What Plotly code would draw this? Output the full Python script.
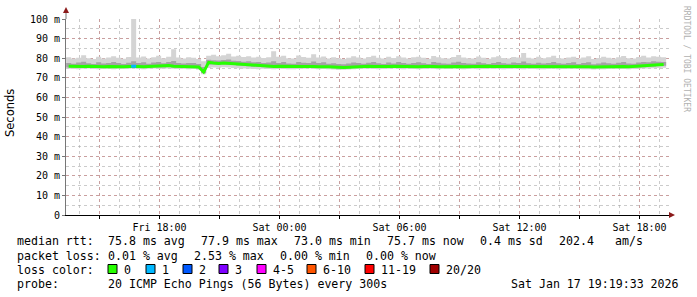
import plotly.graph_objects as go
import pandas as pd

# ---------------- data (15-minute bins, Fri 13:20 -> Sat 19:20) ----------------
median = [
    75.9, 75.8, 75.7, 75.8, 75.9, 75.8, 75.6, 75.7, 75.8, 75.7,
    75.8, 75.7, 75.8, 75.9, 75.8, 75.7, 75.8, 75.9, 75.8, 75.9,
    76.3, 75.9, 75.8, 75.8, 75.7, 75.8, 75.5, 73.0, 77.9, 77.5,
    77.3, 77.6, 77.4, 77.2, 77.0, 76.8, 76.5, 76.3, 76.1, 76.0,
    75.9, 75.8, 75.9, 75.8, 75.8, 75.7, 75.8, 75.8, 75.9, 75.8,
    75.7, 75.8, 75.6, 75.5, 75.3, 75.3, 75.4, 75.6, 75.8, 75.8,
    75.9, 75.8, 75.7, 75.8, 75.8, 75.9, 75.8, 75.7, 75.8, 75.8,
    75.7, 75.8, 75.9, 75.8, 75.7, 75.8, 75.8, 75.9, 75.8, 75.7,
    75.8, 75.8, 75.7, 75.8, 75.9, 75.8, 75.8, 75.7, 75.8, 75.9,
    75.8, 75.7, 75.8, 75.8, 75.6, 75.7, 75.8, 75.8, 75.7, 75.8,
    75.8, 75.9, 75.8, 75.7, 75.6, 75.5, 75.6, 75.7, 75.8, 75.8,
    75.9, 75.8, 75.7, 75.8, 75.9, 76.0, 76.2, 76.4, 76.6, 76.8,
]
smoke_max = [
    80.5, 79.8, 80.2, 81.5, 80.0, 79.6, 80.8, 79.9, 80.3, 81.0,
    80.2, 79.7, 80.6, 102.0, 80.4, 80.9, 79.8, 80.5, 81.2, 80.0,
    80.7, 84.6, 80.3, 79.9, 80.5, 80.2, 79.6, 78.5, 81.2, 81.8,
    81.0, 81.5, 82.3, 80.9, 81.2, 80.6, 81.0, 80.4, 80.8, 80.1,
    80.5, 83.5, 80.7, 81.2, 80.0, 79.8, 81.4, 80.6, 80.2, 82.0,
    80.3, 80.9, 79.9, 80.5, 80.0, 79.6, 80.2, 81.0, 80.4, 79.9,
    80.6, 81.3, 80.2, 79.8, 80.7, 80.1, 81.0, 80.4, 79.9, 80.5,
    80.8, 80.2, 79.7, 81.1, 80.5, 80.0, 79.8, 80.6, 81.6, 80.3,
    80.0, 79.8, 80.9, 80.2, 79.7, 80.5, 81.0, 80.1, 79.9, 80.6,
    80.4, 82.6, 80.2, 79.8, 80.7, 80.0, 80.5, 81.2, 80.1, 79.9,
    80.3, 80.8, 79.8, 80.4, 81.0, 79.6, 80.1, 80.7, 80.2, 79.9,
    80.5, 81.1, 80.0, 79.8, 80.6, 81.2, 80.4, 81.0, 80.8, 80.5,
]
smoke_min = [
    74.6, 74.5, 74.4, 74.6, 74.7, 74.5, 74.3, 74.5, 74.6, 74.4,
    74.6, 74.5, 74.6, 74.7, 74.5, 74.4, 74.6, 74.7, 74.5, 74.6,
    74.8, 74.6, 74.5, 74.6, 74.4, 74.5, 74.1, 71.8, 75.0, 75.3,
    75.1, 75.4, 75.2, 75.0, 74.9, 74.8, 74.6, 74.5, 74.4, 74.6,
    74.5, 74.4, 74.6, 74.5, 74.4, 74.3, 74.5, 74.6, 74.7, 74.5,
    74.4, 74.5, 74.3, 74.2, 74.0, 74.1, 74.2, 74.3, 74.5, 74.6,
    74.6, 74.5, 74.4, 74.5, 74.6, 74.7, 74.5, 74.4, 74.6, 74.5,
    74.4, 74.5, 74.6, 74.5, 74.4, 74.6, 74.5, 74.7, 74.5, 74.4,
    74.5, 74.6, 74.4, 74.5, 74.6, 74.5, 74.6, 74.4, 74.5, 74.6,
    74.5, 74.4, 74.6, 74.5, 74.3, 74.4, 74.5, 74.6, 74.4, 74.5,
    74.6, 74.6, 74.5, 74.4, 74.3, 74.2, 74.3, 74.4, 74.5, 74.6,
    74.6, 74.5, 74.4, 74.5, 74.6, 74.7, 74.8, 74.9, 75.0, 75.1,
]
smoke_q3 = [
    77.6, 77.2, 77.8, 78.2, 77.4, 77.0, 77.9, 77.3, 77.6, 78.0,
    77.5, 77.1, 77.7, 78.4, 77.6, 77.9, 77.2, 77.8, 78.1, 77.4,
    78.0, 78.6, 77.5, 77.3, 77.6, 77.5, 77.0, 75.5, 79.2, 79.0,
    78.8, 79.1, 79.3, 78.7, 78.6, 78.2, 78.4, 77.9, 78.0, 77.6,
    77.8, 78.5, 77.6, 78.0, 77.3, 77.2, 78.1, 77.7, 77.5, 78.3,
    77.5, 77.9, 77.2, 77.4, 77.0, 76.9, 77.3, 77.8, 77.6, 77.2,
    77.7, 78.1, 77.4, 77.1, 77.8, 77.3, 78.0, 77.6, 77.2, 77.5,
    77.9, 77.4, 77.1, 78.0, 77.7, 77.3, 77.2, 77.8, 78.2, 77.5,
    77.3, 77.2, 77.9, 77.4, 77.1, 77.6, 78.0, 77.4, 77.2, 77.8,
    77.6, 78.3, 77.4, 77.2, 77.7, 77.3, 77.6, 78.1, 77.4, 77.2,
    77.5, 77.9, 77.1, 77.6, 77.9, 76.9, 77.3, 77.8, 77.4, 77.2,
    77.7, 78.0, 77.3, 77.2, 77.8, 78.1, 77.9, 78.4, 78.2, 78.0,
]
smoke_q1 = [
    75.3, 75.2, 75.1, 75.3, 75.4, 75.2, 75.0, 75.1, 75.3, 75.1,
    75.2, 75.1, 75.3, 75.3, 75.2, 75.1, 75.2, 75.4, 75.2, 75.3,
    75.7, 75.3, 75.2, 75.3, 75.1, 75.2, 74.8, 72.4, 76.6, 76.8,
    76.6, 76.9, 76.7, 76.5, 76.3, 76.1, 75.9, 75.7, 75.5, 75.4,
    75.3, 75.2, 75.3, 75.2, 75.2, 75.1, 75.2, 75.3, 75.3, 75.2,
    75.1, 75.2, 75.0, 74.9, 74.7, 74.7, 74.8, 75.0, 75.2, 75.2,
    75.3, 75.2, 75.1, 75.2, 75.3, 75.3, 75.2, 75.1, 75.2, 75.2,
    75.1, 75.2, 75.3, 75.2, 75.1, 75.2, 75.2, 75.3, 75.2, 75.1,
    75.2, 75.2, 75.1, 75.2, 75.3, 75.2, 75.2, 75.1, 75.2, 75.3,
    75.2, 75.1, 75.2, 75.2, 75.0, 75.1, 75.2, 75.2, 75.1, 75.2,
    75.2, 75.3, 75.2, 75.1, 75.0, 74.9, 75.0, 75.1, 75.2, 75.2,
    75.3, 75.2, 75.1, 75.2, 75.3, 75.4, 75.6, 75.8, 76.0, 76.2,
]
loss = [
    0, 0, 0, 0, 0, 0, 0, 0, 0, 0,
    0, 0, 0, 1, 0, 0, 0, 0, 0, 0,
    0, 0, 0, 0, 0, 0, 0, 0, 0, 0,
    0, 0, 0, 0, 0, 0, 0, 0, 0, 0,
    0, 0, 0, 0, 0, 0, 0, 0, 0, 0,
    0, 0, 0, 0, 0, 0, 0, 0, 0, 0,
    0, 0, 0, 0, 0, 0, 0, 0, 0, 0,
    0, 0, 0, 0, 0, 0, 0, 0, 0, 0,
    0, 0, 0, 0, 0, 0, 0, 0, 0, 0,
    0, 0, 0, 0, 0, 0, 0, 0, 0, 0,
    0, 0, 0, 0, 0, 0, 0, 0, 0, 0,
    0, 0, 0, 0, 0, 0, 0, 0, 0, 0,
]
loss_labels = ["0", "1", "2", "3", "4-5", "6-10", "11-19", "20/20"]
loss_colors = ["#26ff00", "#00b8ff", "#0059ff", "#7e00ff", "#ff00ff", "#ff5500", "#ff0000", "#a00000"]

y_tickvals = [0, 10, 20, 30, 40, 50, 60, 70, 80, 90, 100]
y_ticktext = ["0", "10 m", "20 m", "30 m", "40 m", "50 m", "60 m", "70 m", "80 m", "90 m", "100 m"]
x_tickvals = ["2026-01-16 15:00", "2026-01-16 18:00", "2026-01-16 21:00", "2026-01-17 00:00",
              "2026-01-17 03:00", "2026-01-17 06:00", "2026-01-17 09:00", "2026-01-17 12:00",
              "2026-01-17 15:00", "2026-01-17 18:00"]
x_ticktext = ["", "Fri 18:00", "", "Sat 00:00", "", "Sat 06:00", "", "Sat 12:00", "", "Sat 18:00"]

start = pd.Timestamp("2026-01-16 13:20:00")
step = pd.Timedelta(minutes=15)
x_range = ["2026-01-16 13:19:33", "2026-01-17 19:28:33"]

# ---------------- figure ----------------
n = len(median)
t_edges = [start + step * i for i in range(n + 1)]
t_mid = [start + step * i + step / 2 for i in range(n)]


def ext(v):
    return list(v) + [v[-1]]


fig = go.Figure()
for lo, hi, col in [(smoke_min, smoke_max, "#d4d4d4"), (smoke_q1, smoke_q3, "#a4a4a4")]:
    fig.add_trace(go.Scatter(x=t_edges, y=ext(lo), mode="lines", line=dict(width=0, shape="hv"),
                             hoverinfo="skip", showlegend=False))
    fig.add_trace(go.Scatter(x=t_edges, y=ext(hi), mode="lines", line=dict(width=0, shape="hv"),
                             fill="tonexty", fillcolor=col, hoverinfo="skip", showlegend=False))

fig.add_trace(go.Scatter(x=t_mid, y=median, mode="lines", line=dict(color=loss_colors[0], width=3),
                         showlegend=False))
for i, l in enumerate(loss):
    if l > 0:
        fig.add_trace(go.Scatter(x=[t_edges[i], t_edges[i + 1]], y=[median[i], median[i]], mode="lines",
                                 line=dict(color=loss_colors[min(l, 7)], width=3), showlegend=False))

L, R, T, B = 66, 669, 19, 215
W, H = 697, 297


def xp(px):
    return (px - L) / (R - L)


def yp(py):
    return (B - py) / (B - T)


MAJ = "rgba(200,130,130,0.6)"
MIN = "rgba(160,160,160,0.55)"

fig.update_layout(
    width=W, height=H,
    margin=dict(l=L, r=W - R, t=T, b=H - B, pad=0),
    paper_bgcolor="white", plot_bgcolor="white",
    showlegend=False,
    font=dict(family="DejaVu Sans Mono", size=10, color="black"),
    xaxis=dict(type="date", range=x_range, tickvals=x_tickvals, ticktext=x_ticktext,
               showgrid=True, gridcolor=MAJ, griddash="dot", gridwidth=1,
               minor=dict(dtick=3600000, tick0="2026-01-16 00:00", showgrid=True, gridcolor=MIN,
                          griddash="dot", gridwidth=1),
               ticks="outside", ticklen=3, tickcolor="black", showline=True, linecolor="black",
               linewidth=1, zeroline=False, tickfont=dict(size=10), fixedrange=True),
    yaxis=dict(range=[0, 100], tickvals=y_tickvals, ticktext=y_ticktext,
               showgrid=True, gridcolor=MAJ, griddash="dot", gridwidth=1,
               minor=dict(dtick=5, tick0=0, showgrid=True, gridcolor=MIN, griddash="dot", gridwidth=1),
               ticks="outside", ticklen=3, tickcolor="#777", showline=True, linecolor="#777",
               linewidth=1, zeroline=False, tickfont=dict(size=10), fixedrange=True),
)

shapes = []
# axis extensions and arrows
shapes.append(dict(type="line", xref="paper", yref="paper", x0=0, x1=0, y0=1, y1=yp(11),
                   line=dict(color="#777", width=1)))
shapes.append(dict(type="line", xref="paper", yref="paper", x0=1, x1=xp(672), y0=0, y1=0,
                   line=dict(color="black", width=1)))
shapes.append(dict(type="path", xref="paper", yref="paper",
                   path=f"M {xp(63)},{yp(13)} L {xp(69)},{yp(13)} L {xp(66)},{yp(7)} Z",
                   fillcolor="#8b1a1a", line=dict(width=0)))
shapes.append(dict(type="path", xref="paper", yref="paper",
                   path=f"M {xp(669)},{yp(212)} L {xp(669)},{yp(218)} L {xp(675)},{yp(215)} Z",
                   fillcolor="#8b1a1a", line=dict(width=0)))

FS = 11.6
ann = []


def text(px, py, s, size=FS, **kw):
    ann.append(dict(xref="paper", yref="paper", x=xp(px), y=yp(py), text=s, showarrow=False,
                    xanchor=kw.pop("xanchor", "left"), yanchor=kw.pop("yanchor", "middle"),
                    borderpad=0,
                    font=dict(family=kw.pop("family", "DejaVu Sans Mono"), size=size,
                              color=kw.pop("color", "black")), **kw))


y1, y2, y3, y4 = 241.5, 255.5, 269.5, 283.5
text(16, y1, "median rtt:")
text(107, y1, "75.8 ms avg")
text(200, y1, "77.9 ms max")
text(293, y1, "73.0 ms min")
text(386, y1, "75.7 ms now")
text(479, y1, "0.4 ms sd")
text(558, y1, "202.4")
text(614, y1, "am/s")

text(16, y2, "packet loss:")
text(107, y2, "0.01 % avg")
text(193, y2, "2.53 % max")
text(279, y2, "0.00 % min")
text(365, y2, "0.00 % now")

text(16, y3, "loss color:")
box_x = [108, 146, 183, 219, 257, 307, 365, 430]
for bx, lab, col in zip(box_x, loss_labels, loss_colors):
    shapes.append(dict(type="rect", xref="paper", yref="paper", x0=xp(bx), x1=xp(bx + 9),
                       y0=yp(264.5), y1=yp(273.5), fillcolor=col, line=dict(color="black", width=1)))
    text(bx + 15, y3, lab)

text(16, y4, "probe:")
text(107, y4, "20 ICMP Echo Pings (56 Bytes) every 300s")
text(680, y4, "Sat Jan 17 19:19:33 2026", xanchor="right")

text(10, 113, "Seconds", size=11.5, family="DejaVu Sans", xanchor="center", textangle=-90)
text(687, 59, "RRDTOOL / TOBI OETIKER", size=8, color="#b0b0b0", xanchor="center", textangle=90)

fig.update_layout(shapes=shapes, annotations=ann)
fig.write_html("out.html")
